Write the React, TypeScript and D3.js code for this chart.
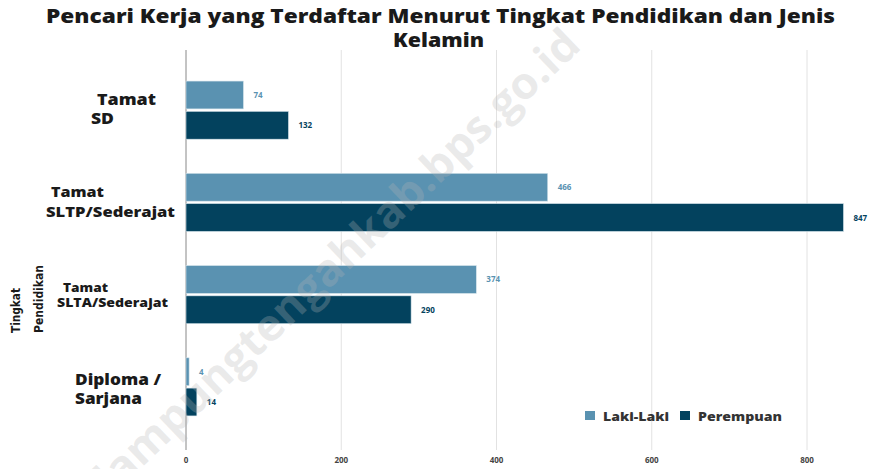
import * as d3 from "d3";

const categories = [
  ["Tamat", "SD"],
  ["Tamat", "SLTP/Sederajat"],
  ["Tamat", "SLTA/Sederajat"],
  ["Diploma /", "Sarjana"],
];
const lakiLaki = [74, 466, 374, 4];
const perempuan = [132, 847, 290, 14];
const seriesNames = ["Laki-Laki", "Perempuan"];
const xTicks = [0, 200, 400, 600, 800];

// the source labels come in uneven sizes and are stretched sideways
const labelSize = [15, 14, 11.5, 15];
const labelLine1 = [{ x: 97, w: 59 }, { x: 51, w: 53 }, { x: 63, w: 45 }, { x: 75, w: 86 }];
const labelLine2 = [{ x: 91, w: 23 }, { x: 46, w: 129 }, { x: 57, w: 111 }, { x: 75, w: 67 }];
const labelDy = [[-5, 14], [-5, 15], [-3, 12], [-2, 17]];

const colors = ["#5a92b1", "#03425e"];
const font = "'Open Sans', sans-serif";
const narrow = "'Liberation Sans Narrow', 'DejaVu Sans Condensed', sans-serif";

const App = () => {
  const width = 879;
  const height = 469;

  const x = d3.scaleLinear().domain([0, 800]).range([186, 807]);
  const y = d3
    .scaleBand<number>()
    .domain(d3.range(categories.length))
    .range([64, 433])
    .paddingInner(0.37)
    .paddingOuter(0.185);
  const sub = d3
    .scaleBand<number>()
    .domain([0, 1])
    .range([0, y.bandwidth()])
    .paddingInner(0.08);

  const values = [lakiLaki, perempuan];

  return (
    <svg
      width={width}
      height={height}
      style={{ position: "absolute", left: 0, top: 0, background: "#fff" }}
      fontFamily={font}
    >
      <text
        x={46}
        y={23}
        fontSize={18.5}
        fontWeight="800"
        fill="#1a1a1a"
        textLength={789}
        lengthAdjust="spacingAndGlyphs"
      >
        Pencari Kerja yang Terdaftar Menurut Tingkat Pendidikan dan Jenis
      </text>
      <text
        x={393}
        y={47}
        fontSize={18.5}
        fontWeight="800"
        fill="#1a1a1a"
        textLength={91}
        lengthAdjust="spacingAndGlyphs"
      >
        Kelamin
      </text>

      {xTicks.map((t) => (
        <g key={t}>
          <line
            x1={x(t)}
            x2={x(t)}
            y1={50}
            y2={450}
            stroke={t === 0 ? "#888" : "#e2e2e2"}
            strokeWidth={1}
          />
          <text
            x={x(t)}
            y={463}
            textAnchor="middle"
            fontSize={8}
            fontWeight="bold"
            fill="#444"
          >
            {t}
          </text>
        </g>
      ))}

      {categories.map((c, i) => {
        const mid = (y(i) ?? 0) + y.bandwidth() / 2;
        return (
          <g key={i}>
            {values.map((vals, s) => {
              const y0 = (y(i) ?? 0) + (sub(s) ?? 0);
              return (
                <g key={s}>
                  <rect
                    x={x(0)}
                    y={y0}
                    width={x(vals[i]) - x(0)}
                    height={sub.bandwidth()}
                    fill={colors[s]}
                    stroke="#d6e4ec"
                    strokeWidth={0.6}
                  />
                  <text
                    x={x(vals[i]) + 10}
                    y={y0 + sub.bandwidth() / 2 + 3}
                    fontSize={8}
                    fontWeight="bold"
                    fill={colors[s]}
                  >
                    {vals[i]}
                  </text>
                </g>
              );
            })}
            <text
              x={labelLine1[i].x}
              y={mid + labelDy[i][0]}
              fontSize={labelSize[i]}
              fontWeight="800"
              fill="#1a1a1a"
              textLength={labelLine1[i].w}
              lengthAdjust="spacingAndGlyphs"
            >
              {c[0]}
            </text>
            <text
              x={labelLine2[i].x}
              y={mid + labelDy[i][1]}
              fontSize={labelSize[i]}
              fontWeight="800"
              fill="#1a1a1a"
              textLength={labelLine2[i].w}
              lengthAdjust="spacingAndGlyphs"
            >
              {c[1]}
            </text>
          </g>
        );
      })}

      <g transform="translate(0,333) rotate(-90)">
        <text
          x={0}
          y={20}
          fontSize={13}
          fontWeight="bold"
          fontFamily={narrow}
          fill="#1a1a1a"
          textLength={45}
          lengthAdjust="spacingAndGlyphs"
        >
          Tingkat
        </text>
        <text
          x={0}
          y={43}
          fontSize={13}
          fontWeight="bold"
          fontFamily={narrow}
          fill="#1a1a1a"
          textLength={68}
          lengthAdjust="spacingAndGlyphs"
        >
          Pendidikan
        </text>
      </g>

      {seriesNames.map((name, s) => {
        const lx = s === 0 ? 585 : 680;
        return (
          <g key={name}>
            <rect x={lx} y={411} width={10} height={9} fill={colors[s]} />
            <text
              x={lx + 18}
              y={421}
              fontSize={11.5}
              fontWeight="800"
              fill="#333"
              textLength={s === 0 ? 66 : 84}
              lengthAdjust="spacingAndGlyphs"
            >
              {name}
            </text>
          </g>
        );
      })}

      <text
        transform="translate(112,496) rotate(-43.6)"
        fontSize={44}
        fontWeight="bold"
        fill="#b5b5b5"
        fillOpacity={0.28}
        textLength={650}
        lengthAdjust="spacingAndGlyphs"
      >
        lampungtengahkab.bps.go.id
      </text>
    </svg>
  );
};

export default App;
